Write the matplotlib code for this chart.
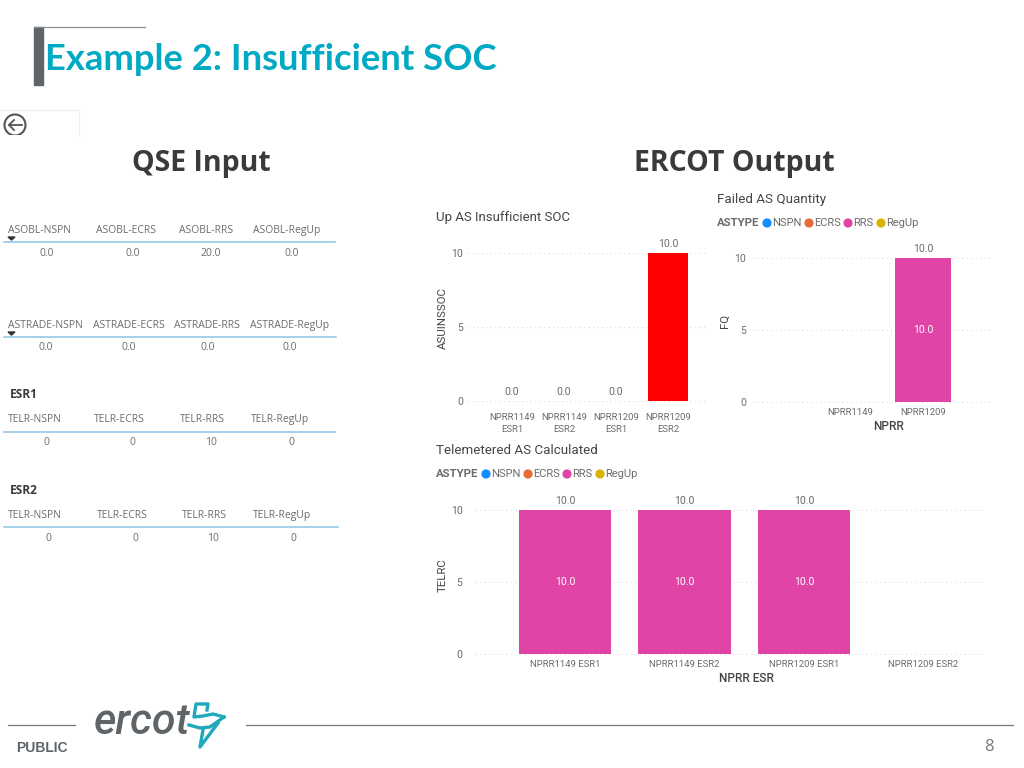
import matplotlib
matplotlib.use("Agg")
import matplotlib.pyplot as plt
from matplotlib.patches import Circle, Polygon, Rectangle

# table data
asobl_cols = ["ASOBL-NSPN", "ASOBL-ECRS", "ASOBL-RRS", "ASOBL-RegUp"]
asobl_vals = ["0.0", "0.0", "20.0", "0.0"]
astrade_cols = ["ASTRADE-NSPN", "ASTRADE-ECRS", "ASTRADE-RRS", "ASTRADE-RegUp"]
astrade_vals = ["0.0", "0.0", "0.0", "0.0"]
telr_cols = ["TELR-NSPN", "TELR-ECRS", "TELR-RRS", "TELR-RegUp"]
esr1_vals = ["0", "0", "10", "0"]
esr2_vals = ["0", "0", "10", "0"]

# chart data
insuff_labels = ["NPRR1149\nESR1", "NPRR1149\nESR2", "NPRR1209\nESR1", "NPRR1209\nESR2"]
insuff_vals = [0, 0, 0, 10]
failed_labels = ["NPRR1149", "NPRR1209"]
failed_vals = [None, 10]
telem_labels = ["NPRR1149 ESR1", "NPRR1149 ESR2", "NPRR1209 ESR1", "NPRR1209 ESR2"]
telem_vals = [10, 10, 10, None]
legend_names = ["NSPN", "ECRS", "RRS", "RegUp"]
legend_colors = ["#118DFF", "#E66C37", "#E044A7", "#D9B300"]

W, H = 1024, 768
TEAL = "#00A9C4"
GRAY = "#5F6468"
TXT = "#6E6C6A"
DARK = "#3A3A3A"
PINK = "#E044A7"
LOGO = "#1FA9BB"
SANS = "Open Sans"
DIN = "Roboto"

fig = plt.figure(figsize=(W / 100, H / 100), dpi=100)
bg = fig.add_axes([0, 0, 1, 1])
bg.set_xlim(0, W)
bg.set_ylim(H, 0)
bg.axis("off")


def chart_axes(left, right, y10, y0, first, step, xpad, ypad):
    """axes placed in pixels, first = pixel centre of category 0"""
    ax = fig.add_axes([left / W, 1 - y0 / H, (right - left) / W, (y0 - y10) / H])
    ax.set_xlim((left - first) / step, (right - first) / step)
    ax.set_ylim(0, 10)
    for s in ax.spines.values():
        s.set_visible(False)
    ax.patch.set_alpha(0)
    ax.set_yticks([0, 5, 10])
    ax.grid(axis="y", color="#DDDDDD", linestyle=(0, (1, 3)), linewidth=0.8, clip_on=False)
    ax.set_axisbelow(True)
    ax.tick_params(axis="x", length=0, pad=xpad)
    ax.tick_params(axis="y", length=0, labelsize=7.6, labelcolor=TXT, pad=ypad)
    for t in ax.get_yticklabels():
        t.set_fontfamily(DIN)
    return ax


def bars(ax, labels, vals, color, inside=False):
    xs = list(range(len(labels)))
    hs = [v if v is not None else 0 for v in vals]
    ax.bar(xs, hs, width=0.77, color=color)
    ax.set_xticks(xs)
    ax.set_xticklabels(labels, fontsize=6.8, color=TXT, fontfamily=DIN, linespacing=1.4)
    for x, v in zip(xs, vals):
        if v is None:
            continue
        ax.annotate(f"{v:.1f}", (x, v), xytext=(0, 3), textcoords="offset points", ha="center",
                    va="bottom", fontsize=7.6, color=TXT, fontfamily=DIN, annotation_clip=False)
        if inside:
            ax.text(x, v / 2, f"{v:.1f}", ha="center", va="center", fontsize=7.6, color="white",
                    fontfamily=DIN)


def table(cols, vals, col_x, val_x, y_head, y_rule, y_val, rule_end, arrow=False):
    for name, x in zip(cols, col_x):
        bg.text(x, y_head, name, ha="left", va="center_baseline", fontsize=7.5, color=TXT, fontfamily=SANS)
    bg.plot([4, rule_end], [y_rule, y_rule], color="#8CC4E8", lw=1.1)
    for v, x in zip(vals, val_x):
        bg.text(x, y_val, v, ha="center", va="center_baseline", fontsize=7.5, color=TXT, fontfamily=SANS)
    if arrow:
        bg.add_patch(Polygon([(8, y_head + 8), (15, y_head + 8), (11.5, y_head + 11)], color="#333333"))


def legend(x0, y):
    bg.text(x0, y, "ASTYPE", ha="left", va="center", fontsize=8.2, fontweight="bold", color=TXT, fontfamily=DIN)
    offs = [50, 92, 131, 164]
    for name, col, off in zip(legend_names, legend_colors, offs):
        bg.add_patch(Circle((x0 + off, y), 3.9, color=col))
        bg.text(x0 + off + 5.5, y, name, ha="left", va="center", fontsize=8, color=TXT, fontfamily=DIN)


# slide title
bg.add_patch(Rectangle((34, 27), 9, 58, color=GRAY))
bg.plot([34, 145], [27, 27], color="#8A8E91", lw=0.9)
bg.text(45, 59, "Example 2: Insufficient SOC", ha="left", va="center", fontsize=26.2,
        fontweight="bold", color=TEAL, fontfamily="Lato")

# back button
bg.plot([0, 79, 79], [110, 110, 135], color="#EDEDED", lw=0.8)
clip = Rectangle((0, 110), 79, 25, transform=bg.transData)
ring = Circle((15, 125), 10.5, fill=False, ec="#555555", lw=1.5)
bg.add_patch(ring)
ring.set_clip_path(clip)
bg.plot([22, 9, 14], [125, 125, 120], color="#555555", lw=1.3)
bg.plot([9, 14], [125, 130], color="#555555", lw=1.3)

# section headers
bg.text(201, 164, "QSE Input", ha="center", va="center", fontsize=20.5, fontweight="bold", color=DARK, fontfamily=SANS)
bg.text(734, 164, "ERCOT Output", ha="center", va="center", fontsize=20.5, fontweight="bold", color=DARK, fontfamily=SANS)

# left tables
table(asobl_cols, asobl_vals, [8, 96, 179, 253], [47, 133, 211, 292], 229, 242, 252, 335, arrow=True)
table(astrade_cols, astrade_vals, [8, 93, 174, 250], [46, 129, 208, 290], 324, 337, 346, 336, arrow=True)
bg.text(10, 395, "ESR1", ha="left", va="center", fontsize=8.6, fontweight="bold", color=DARK, fontfamily=SANS)
table(telr_cols, esr1_vals, [8, 94, 180, 251], [46, 132, 211, 291], 418, 432, 441, 335)
bg.text(10, 491, "ESR2", ha="left", va="center", fontsize=8.6, fontweight="bold", color=DARK, fontfamily=SANS)
table(telr_cols, esr2_vals, [8, 97, 182, 253], [48, 135, 213, 293], 514, 527, 537, 338)

# up AS insufficient SOC
ax1 = chart_axes(468, 708, 253, 401, 512, 52, 9, 3.6)
bars(ax1, insuff_labels, insuff_vals, "#FF0000")
bg.text(436, 218, "Up AS Insufficient SOC", ha="left", va="center", fontsize=9.5, color="#444444", fontfamily=DIN)
bg.text(443, 318, "ASUINSSOC", rotation=90, ha="center", va="center", fontsize=8.2, color="#444444", fontfamily=DIN)

# failed AS quantity
ax2 = chart_axes(753, 990, 258, 402, 850, 73, 4, 5)
bars(ax2, failed_labels, failed_vals, PINK, inside=True)
bg.text(717, 199, "Failed AS Quantity", ha="left", va="center", fontsize=9.6, color="#444444", fontfamily=DIN)
legend(717, 223)
bg.text(725, 321, "FQ", rotation=90, ha="center", va="center", fontsize=8.2, color="#444444", fontfamily=DIN)
bg.text(888, 426, "NPRR", ha="center", va="center", fontsize=8.6, fontweight="medium", color="#444444", fontfamily=DIN)

# telemetered AS calculated
ax3 = chart_axes(475, 985, 510, 654, 565, 119.5, 4, 9)
bars(ax3, telem_labels, telem_vals, PINK, inside=True)
bg.text(436, 451, "Telemetered AS Calculated", ha="left", va="center", fontsize=9.6, color="#444444", fontfamily=DIN)
legend(436, 474)
bg.text(443, 575, "TELRC", rotation=90, ha="center", va="center", fontsize=8.2, color="#444444", fontfamily=DIN)
bg.text(746, 678, "NPRR ESR", ha="center", va="center", fontsize=8.6, fontweight="medium", color="#444444", fontfamily=DIN)

# footer
bg.plot([8, 75], [725, 725], color="#77797B", lw=0.9)
bg.plot([246, 1013], [725, 725], color="#77797B", lw=0.9)
bg.text(16, 748, "PUBLIC", ha="left", va="center", fontsize=10, fontweight="bold", color=GRAY, fontfamily="Liberation Sans")
bg.text(989, 747, "8", ha="center", va="center", fontsize=12, color="#7A7A7A", fontfamily=SANS)
bg.text(94, 723, "ercot", ha="left", va="center", fontsize=31, style="italic", fontweight="medium", color=GRAY, fontfamily=DIN)
bg.plot([207, 208, 196, 194, 203, 213, 224], [710, 704, 704, 717, 716, 714, 717], color=LOGO, lw=2.4)
bg.plot([189, 200, 210, 224], [725, 728, 727, 717], color=LOGO, lw=2.4)
bg.plot([218, 200, 203], [723, 747, 730], color=LOGO, lw=2.4)

fig.savefig("out.png", dpi=100)
